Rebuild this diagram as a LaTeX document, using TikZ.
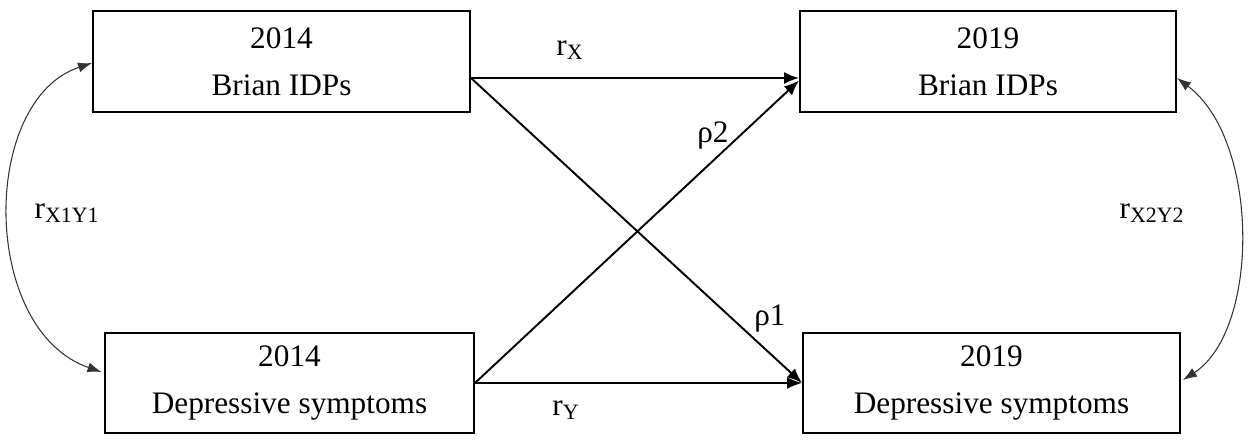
\documentclass[tikz,border=0pt]{standalone}
\usepackage{fontspec}
\setmainfont{Liberation Serif}
\usetikzlibrary{arrows.meta,calc}
\tikzset{
    block/.style = {draw=black, line width=1.1pt, minimum height=2.02cm,
            align=center, inner sep=0pt,
            font=\fontsize{17.8}{26.7}\selectfont},
    path/.style  = {-{Latex[length=0.3cm, width=0.24cm]}, line width=1.1pt},
    corr/.style  = {{Latex[length=0.28cm, width=0.2cm]}-{Latex[length=0.28cm, width=0.2cm]},
            line width=0.6pt, draw=black!80},
    lbl/.style   = {inner sep=0pt, font=\fontsize{17.8}{20}\selectfont},
}
\begin{document}
\begin{tikzpicture}
    \useasboundingbox (0,0) rectangle (25,-8.88);
    % boxes
    \node[block, minimum width=7.54cm] (brain14) at (5.63,-1.23) {2014\\Brian IDPs};
    \node[block, minimum width=7.52cm] (brain19) at (19.76,-1.23) {2019\\Brian IDPs};
    \node[block, minimum width=7.38cm, minimum height=2cm] (dep14) at (5.79,-7.66) {2014\\Depressive symptoms};
    \node[block, minimum width=7.54cm, minimum height=2cm] (dep19) at (19.83,-7.66) {2019\\Depressive symptoms};

    % stability and cross-lagged paths
    \draw[path] ($(brain14.east)+(0,-0.33)$) -- ($(brain19.west)+(0,-0.33)$);
    \draw[path] ($(brain14.east)+(0,-0.33)$) -- (dep19.west);
    \draw[path] (dep14.east) -- ($(brain19.west)+(0,-0.38)$);
    \draw[path] (dep14.east) -- (dep19.west);

    % correlations
    \draw[corr] ($(brain14.west)+(0,-0.03)$) .. controls (-0.4,-2) and (-0.4,-6.6) .. ($(dep14.west)+(-0.05,0.22)$);
    \draw[corr] ($(brain19.east)+(0,-0.33)$) .. controls (25.2,-2.8) and (25.2,-6.6) .. ($(dep19.east)+(0.04,0.06)$);

    % labels
    \node[lbl] (rx) at (11.4,-1.0) {r\textsubscript{X}};
    \node[lbl] (rho2) at (14.26,-2.7) {ρ2};
    \node[lbl] (rho1) at (15.4,-6.36) {ρ1};
    \node[lbl] (ry) at (11.32,-8.2) {r\textsubscript{Y}};
    \node[lbl] (rx1y1) at (1.34,-4.26) {r\textsubscript{X1Y1}};
    \node[lbl] (rx2y2) at (23.04,-4.26) {r\textsubscript{X2Y2}};
\end{tikzpicture}
\end{document}
